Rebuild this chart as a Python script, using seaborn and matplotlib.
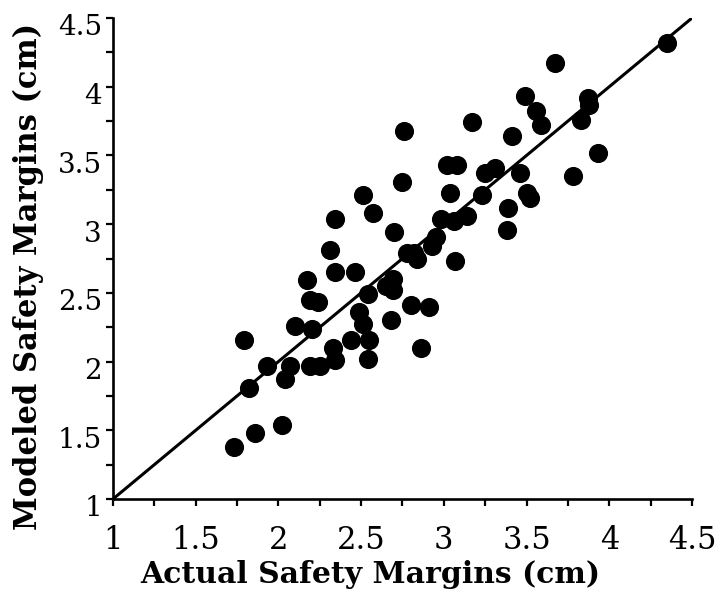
import matplotlib
matplotlib.use("Agg")
import matplotlib.pyplot as plt
from matplotlib.transforms import ScaledTranslation
import seaborn as sns

actual = [4.35, 3.67, 3.49, 3.87, 3.88, 3.56, 3.59, 3.83, 3.17, 2.76,
          3.41, 3.93, 3.02, 3.08, 3.31, 3.25, 3.46, 3.78, 2.75, 3.04,
          3.23, 3.50, 3.52, 2.51, 2.57, 2.34, 3.39, 3.38, 2.98, 3.06,
          3.14, 2.70, 2.95, 2.93, 2.31, 2.78, 2.82, 2.84, 3.07, 2.34,
          2.46, 2.17, 2.69, 2.65, 2.69, 2.54, 2.19, 2.24, 2.80, 2.91,
          2.49, 2.51, 2.68, 2.10, 2.20, 2.44, 2.55, 1.79, 2.33, 2.86,
          2.34, 2.54, 1.93, 2.07, 2.19, 2.25, 2.04, 1.82, 2.02, 1.86,
          1.73]
modeled = [4.32, 4.17, 3.93, 3.92, 3.87, 3.82, 3.72, 3.76, 3.74, 3.68,
           3.64, 3.52, 3.43, 3.43, 3.41, 3.37, 3.37, 3.35, 3.31, 3.23,
           3.21, 3.23, 3.19, 3.21, 3.08, 3.04, 3.12, 2.96, 3.04, 3.02,
           3.06, 2.94, 2.91, 2.84, 2.81, 2.79, 2.79, 2.75, 2.73, 2.65,
           2.65, 2.59, 2.60, 2.55, 2.52, 2.49, 2.45, 2.43, 2.41, 2.40,
           2.36, 2.27, 2.30, 2.26, 2.24, 2.16, 2.16, 2.16, 2.10, 2.10,
           2.01, 2.02, 1.97, 1.97, 1.97, 1.97, 1.87, 1.81, 1.54, 1.48,
           1.38]
line_x = [1.0, 4.5]
line_y = [1.0, 4.5]
tick_vals = [1, 1.5, 2, 2.5, 3, 3.5, 4, 4.5]
tick_labels = ["1", "1.5", "2", "2.5", "3", "3.5", "4", "4.5"]
minor_vals = [1.25, 1.75, 2.25, 2.75, 3.25, 3.75, 4.25]
x_label = "Actual Safety Margins (cm)"
y_label = "Modeled Safety Margins (cm)"

sns.set_theme(style="ticks")
plt.rcParams['font.family'] = ['DejaVu Serif']
plt.rcParams['text.color'] = 'black'
plt.rcParams['axes.labelcolor'] = 'black'
plt.rcParams['xtick.color'] = 'black'
plt.rcParams['ytick.color'] = 'black'

W, H = 719, 601
fig = plt.figure(figsize=(W / 100, H / 100), dpi=100)
ax = fig.add_axes([113 / W, (H - 499) / H, (692 - 113) / W, (499 - 18) / H])

sns.lineplot(x=line_x, y=line_y, ax=ax, color="black", linewidth=2.2)
sns.scatterplot(x=actual, y=modeled, ax=ax, color="black", marker="o",
                s=190, linewidth=0, zorder=3)

ax.set_xlim(1, 4.5)
ax.set_ylim(1, 4.5)
ax.set_xticks(tick_vals)
ax.set_xticklabels(tick_labels)
ax.set_yticks(tick_vals)
ax.set_yticklabels(tick_labels)
ax.set_xticks(minor_vals, minor=True)
ax.set_yticks(minor_vals, minor=True)

for side in ["top", "right"]:
    ax.spines[side].set_visible(False)
for side in ["left", "bottom"]:
    ax.spines[side].set_linewidth(1.9)
    ax.spines[side].set_color("black")

ax.tick_params(which="both", direction="out", length=5, width=1.6,
               color="black", labelcolor="black")
ax.tick_params(axis="x", which="major", labelsize=22, pad=14)
ax.tick_params(axis="y", which="major", labelsize=20, pad=3)

off = ScaledTranslation(0, -5 / 72, fig.dpi_scale_trans)
for lab in ax.get_yticklabels():
    lab.set_transform(lab.get_transform() + off)

ax.set_xlabel(x_label, fontsize=21.5, fontweight="bold", color="black")
ax.set_ylabel(y_label, fontsize=22, fontweight="bold", color="black")
ax.xaxis.set_label_coords((370 - 113) / 579, (499 - 560) / 481)
ax.yaxis.set_label_coords((44 - 113) / 579, (499 - 276) / 481)
ax.grid(False)

fig.savefig("out.png", dpi=100)
